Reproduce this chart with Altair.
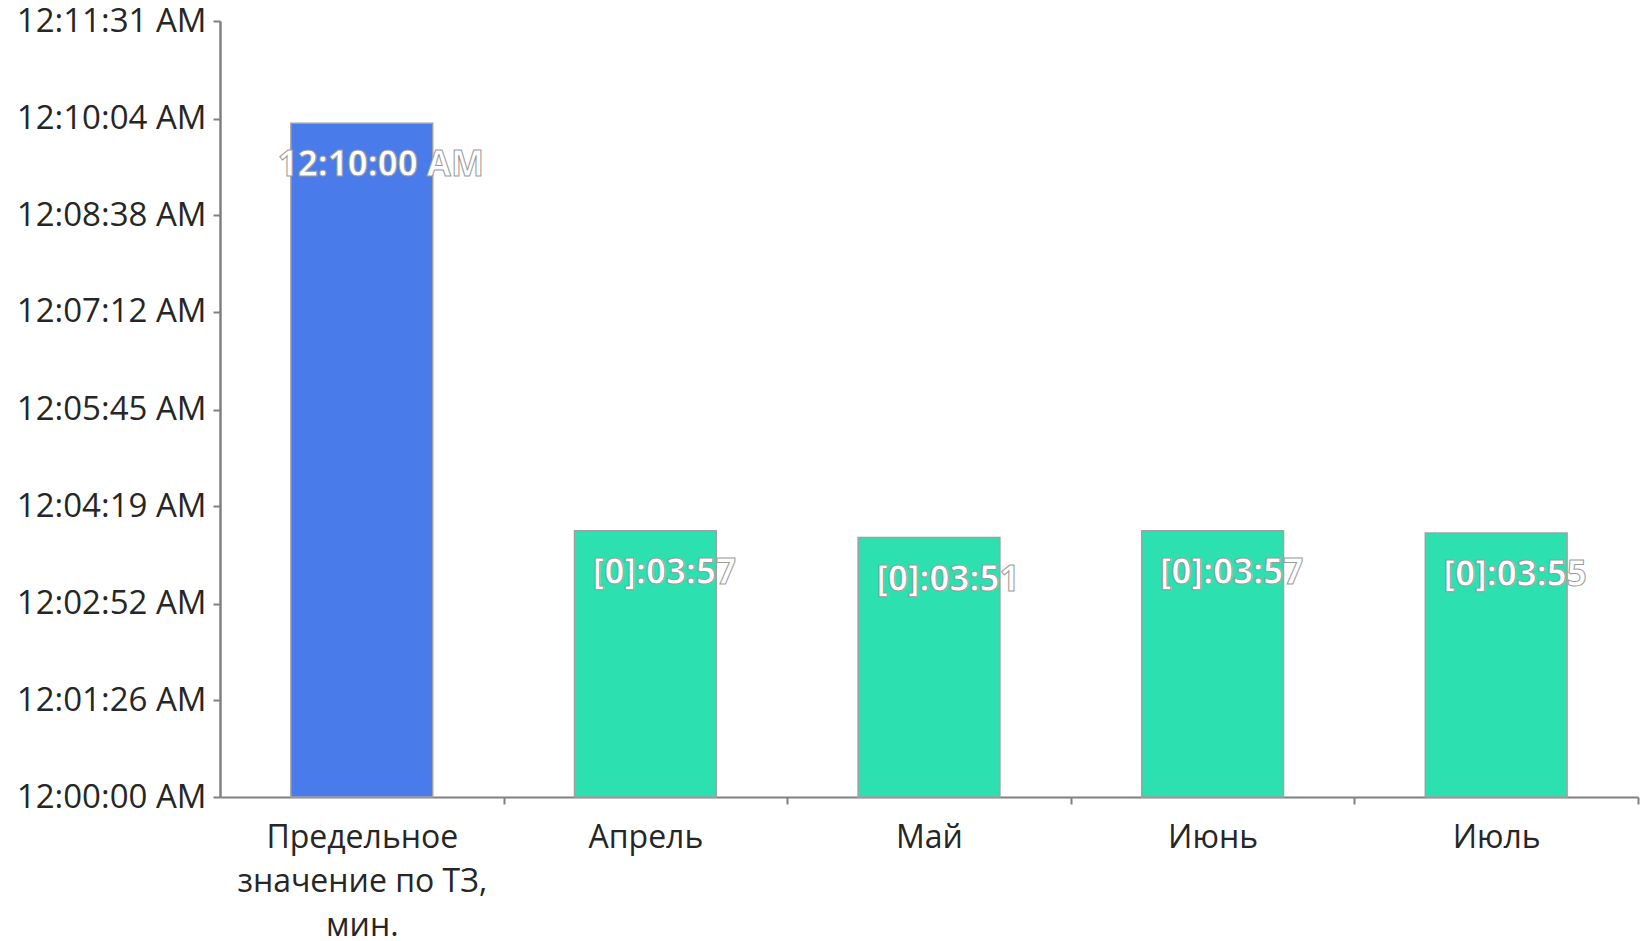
import altair as alt
import pandas as pd

# ---- data ----
categories = ["Предельное\nзначение по ТЗ,\nмин.", "Апрель", "Май", "Июнь", "Июль"]
values_sec = [600, 237, 231, 237, 235]
value_labels = ["12:10:00 AM", "[0]:03:57", "[0]:03:51", "[0]:03:57", "[0]:03:55"]
series = ["limit", "month", "month", "month", "month"]

y_tick_labels = ["12:00:00 AM", "12:01:26 AM", "12:02:52 AM", "12:04:19 AM",
                 "12:05:45 AM", "12:07:12 AM", "12:08:38 AM", "12:10:04 AM",
                 "12:11:31 AM"]


def to_sec(lbl):
    t = lbl.split(" ")[0]
    h, m, s = [int(p) for p in t.split(":")]
    h = h % 12
    return h * 3600 + m * 60 + s


y_tick_values = [to_sec(l) for l in y_tick_labels]

df = pd.DataFrame({
    "cat": categories,
    "sec": values_sec,
    "lab": value_labels,
    "series": series,
})

label_expr = "[" + ",".join("'" + l + "'" for l in y_tick_labels) + "][indexof([" + \
    ",".join(str(v) for v in y_tick_values) + "], datum.value)]"

FONT = "Open Sans"
AXIS_COLOR = "#808080"
PLOT_W = 1418
STEP = PLOT_W / len(categories)

x_enc = alt.X(
    "cat:N", sort=categories, title=None,
    scale=alt.Scale(paddingInner=0.5, paddingOuter=0.25),
    axis=alt.Axis(
        labelAngle=0, labelExpr="split(datum.label, '\\n')",
        labelFont=FONT, labelFontSize=32, labelColor="#262626",
        labelLineHeight=44, labelPadding=18, labelLimit=0,
        tickOffset=STEP / 2, labelOffset=-STEP / 2,
        tickSize=7, tickColor=AXIS_COLOR, tickWidth=2,
        domainColor=AXIS_COLOR, domainWidth=2, grid=False,
    ),
)

y_enc = alt.Y(
    "sec:Q", title=None,
    scale=alt.Scale(domain=[0, y_tick_values[-1]], nice=False, zero=True),
    axis=alt.Axis(
        values=y_tick_values, labelExpr=label_expr,
        labelFont=FONT, labelFontSize=33, labelColor="#262626",
        labelPadding=7, tickSize=7, tickColor=AXIS_COLOR, tickWidth=2,
        domainColor=AXIS_COLOR, domainWidth=2.5, grid=False, labelLimit=0,
    ),
)

bars = alt.Chart(df).mark_bar(stroke="#a0a0a0", strokeWidth=1.5).encode(
    x=x_enc,
    y=y_enc,
    color=alt.Color("series:N", legend=None,
                    scale=alt.Scale(domain=["limit", "month"],
                                    range=["#4a7bea", "#2de0b0"])),
)

texts = alt.Chart(df).mark_text(
    font=FONT, fontSize=35, fontWeight="bold", fill="white",
    stroke="#9a9a9a", strokeWidth=1, align="center", baseline="middle",
    dx=19, dy=42,
).encode(
    x=alt.X("cat:N", sort=categories),
    y=alt.Y("sec:Q"),
    text="lab:N",
)

chart = (bars + texts).properties(
    width=PLOT_W, height=776,
    autosize=alt.AutoSizeParams(type="none"),
    padding={"left": 220, "top": 21, "right": 8, "bottom": 144},
    background="white",
).configure_view(stroke=None)

chart.save("out.html", embed_options={"renderer": "svg", "actions": False})
